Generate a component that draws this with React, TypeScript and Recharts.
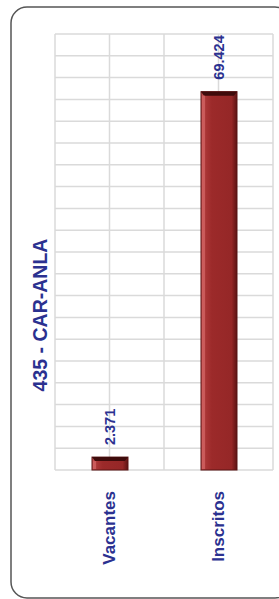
import { BarChart, Bar, XAxis, YAxis, CartesianGrid, LabelList } from 'recharts';

const categories = ['Vacantes', 'Inscritos'];
const values = [2371, 69424];
const valueLabels = ['2.371', '69.424'];
const yTicks = [
  0, 4000, 8000, 12000, 16000, 20000, 24000, 28000, 32000, 36000, 40000,
  44000, 48000, 52000, 56000, 60000, 64000, 68000, 72000, 76000, 80000,
];
const chartTitle = '435 - CAR-ANLA';

const BLUE = '#2b3190';
const FONT = '"Liberation Sans", Arial, sans-serif';

const data = categories.map((name, i) => ({ name, value: values[i], label: valueLabels[i] }));

function BevelBar(props: any) {
  const { x, y, width, height } = props;
  if (!height || height <= 0) return null;
  const t = Math.min(4, height / 3);
  return (
    <g>
      <rect x={x} y={y} width={width} height={height} fill="url(#barGrad)" stroke="#5a1414" strokeWidth={1} />
      <polygon
        points={`${x},${y} ${x + width},${y} ${x + width - 3},${y + t} ${x + 3},${y + t}`}
        fill="#3e0b0b"
      />
      <rect x={x + 1} y={y + t} width={3} height={height - t - 1} fill="#cf6262" opacity={0.8} />
    </g>
  );
}

function EmptyTick() {
  return <g />;
}

function CategoryTick(props: any) {
  const { x, y, payload } = props;
  return (
    <text
      transform={`translate(${x},${y + 13}) rotate(-90)`}
      textAnchor="end"
      dy="0.35em"
      fill={BLUE}
      fontSize={17}
      fontWeight="bold"
      fontFamily={FONT}
    >
      {payload.value}
    </text>
  );
}

function ValueLabel(props: any) {
  const { x, y, width, index } = props;
  const cx = x + width / 2;
  return (
    <text
      transform={`translate(${cx},${y - 12}) rotate(-90)`}
      textAnchor="start"
      dy="0.35em"
      fill={BLUE}
      fontSize={14.5}
      fontWeight="bold"
      fontFamily={FONT}
    >
      {data[index].label}
    </text>
  );
}

export default function App() {
  return (
    <div style={{ position: 'absolute', left: 0, top: 0, width: 279, height: 599, background: '#fff' }}>
      <svg width={279} height={599} style={{ position: 'absolute', left: 0, top: 0 }}>
        <rect x={11} y={7} width={280} height={591} rx={16} fill="none" stroke="#555" strokeWidth={1.5} />
        <text
          transform="translate(40,315) rotate(-90)"
          textAnchor="middle"
          dy="0.35em"
          fill={BLUE}
          fontSize={19.5}
          fontWeight="bold"
          fontFamily={FONT}
        >
          {chartTitle}
        </text>
      </svg>
      <div style={{ position: 'absolute', left: 0, top: 0 }}>
        <BarChart width={279} height={599} data={data} margin={{ top: 34, right: 6, left: 55, bottom: 0 }}>
          <defs>
            <linearGradient id="barGrad" x1="0" y1="0" x2="1" y2="0">
              <stop offset="0%" stopColor="#c45252" />
              <stop offset="15%" stopColor="#a83434" />
              <stop offset="30%" stopColor="#9c2a2a" />
              <stop offset="85%" stopColor="#952727" />
              <stop offset="100%" stopColor="#5c1313" />
            </linearGradient>
          </defs>
          <CartesianGrid
            stroke="#dadada"
            strokeWidth={1.5}
            verticalCoordinatesGenerator={({ offset }: any) =>
              [0, 1, 2, 3, 4].map((i) => offset.left + (offset.width * i) / 4)
            }
          />
          <XAxis
            dataKey="name"
            axisLine={false}
            tickLine={false}
            height={129}
            interval={0}
            tick={<CategoryTick />}
          />
          <YAxis
            width={0}
            domain={[0, 80000]}
            ticks={yTicks}
            interval={0}
            tick={<EmptyTick />}
            axisLine={false}
            tickLine={false}
          />
          <Bar dataKey="value" barSize={36} isAnimationActive={false} shape={<BevelBar />}>
            <LabelList dataKey="label" content={<ValueLabel />} />
          </Bar>
        </BarChart>
      </div>
    </div>
  );
}
